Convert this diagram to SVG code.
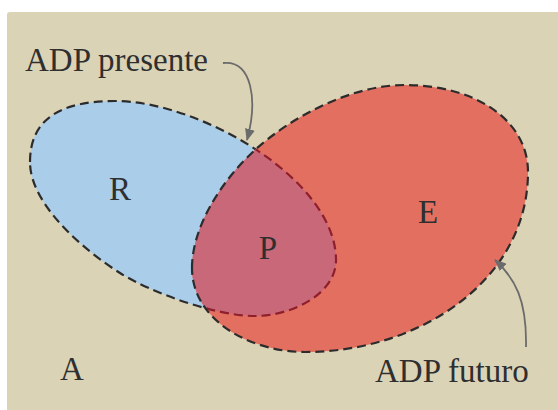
<svg xmlns="http://www.w3.org/2000/svg" xmlns:xlink="http://www.w3.org/1999/xlink" width="558" height="410" viewBox="0 0 558 410">
<style>
.bg{fill:#dbd3b6}
.lbl{font-family:"Liberation Serif","Times New Roman",serif;font-size:33px;fill:#2f2f2f}
.set{font-family:"Liberation Serif","Times New Roman",serif;font-size:33px;fill:#2f2f2f;text-anchor:middle}
.dash{fill:none;stroke:#2c2c2c;stroke-width:2.2;stroke-dasharray:9 5}
.dashred{fill:none;stroke:#8e1f2b;stroke-width:2.2;stroke-dasharray:9 5}
.conn{fill:none;stroke:#6b6b6b;stroke-width:1.8}
</style>
<defs>
<path id="rpath" d="M30,162 C30,118 62,101 115,101 C200,101 336,180 336,260 C336,295 290,316 255,316 C215,316 150,292 120,273 C85,251 30,205 30,162 Z"/>
<path id="epath" d="M192,268 C192,228 220,182 255,150 C290,118 350,85 405,85 C475,85 528,120 528,172 C528,280 420,352 305,352 C250,352 192,320 192,268 Z"/>
<clipPath id="clipE"><use xlink:href="#epath"/></clipPath>
<marker id="ah" viewBox="0 0 12 10" refX="11" refY="5" markerWidth="12" markerHeight="10" markerUnits="userSpaceOnUse" orient="auto">
<path d="M0,0 L12,5 L0,10 Z" fill="#6b6b6b"/>
</marker>
</defs>
<rect class="bg" x="7" y="12" width="560" height="410" rx="3"/>
<g id="node-R">
<use xlink:href="#rpath" fill="#aacde9"/>
<use xlink:href="#rpath" class="dash"/>
<text class="set" x="120" y="200">R</text>
</g>
<g id="node-E">
<use xlink:href="#epath" fill="#e36f60"/>
<text class="set" x="428" y="223">E</text>
</g>
<g id="node-P">
<use xlink:href="#rpath" fill="#c96879" clip-path="url(#clipE)"/>
<use xlink:href="#rpath" class="dashred" clip-path="url(#clipE)"/>
<use xlink:href="#epath" class="dash"/>
<text class="set" x="268" y="259">P</text>
</g>
<g id="node-A">
<text class="set" x="72" y="380">A</text>
</g>
<g id="label-presente">
<text class="lbl" x="25" y="71">ADP presente</text>
</g>
<g id="label-futuro">
<text class="lbl" x="375" y="382">ADP futuro</text>
</g>
<g id="connectors">
<path class="conn" d="M223,63 C252,60 258,100 247,140" marker-end="url(#ah)"/>
<path class="conn" d="M526,347 C527,300 515,278 495,260" marker-end="url(#ah)"/>
</g>
</svg>
